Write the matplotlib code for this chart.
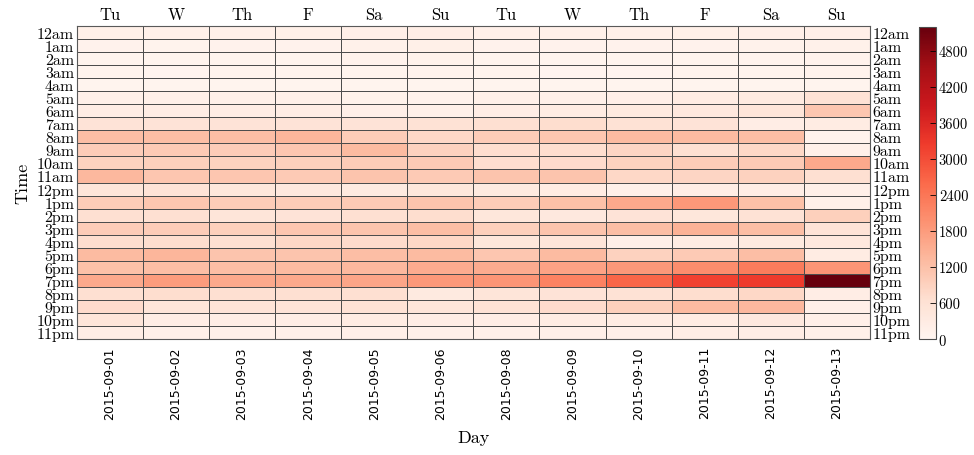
import numpy as np
import matplotlib
matplotlib.use("Agg")
import matplotlib.pyplot as plt

dates = ["2015-09-01", "2015-09-02", "2015-09-03", "2015-09-04", "2015-09-05", "2015-09-06",
         "2015-09-08", "2015-09-09", "2015-09-10", "2015-09-11", "2015-09-12", "2015-09-13"]
weekdays = ["Tu", "W", "Th", "F", "Sa", "Su", "Tu", "W", "Th", "F", "Sa", "Su"]
hours = ["12am", "1am", "2am", "3am", "4am", "5am", "6am", "7am", "8am", "9am", "10am", "11am",
         "12pm", "1pm", "2pm", "3pm", "4pm", "5pm", "6pm", "7pm", "8pm", "9pm", "10pm", "11pm"]

# rows = hours, columns = dates
h00 = [180, 150, 160, 170, 200, 230, 160, 150, 150, 170, 190, 200]
h01 = [100, 80, 90, 100, 130, 170, 90, 90, 90, 100, 120, 130]
h02 = [60, 50, 60, 60, 90, 120, 60, 50, 50, 60, 80, 90]
h03 = [50, 40, 50, 50, 60, 80, 50, 40, 40, 50, 60, 70]
h04 = [60, 60, 60, 60, 50, 60, 60, 60, 60, 60, 60, 50]
h05 = [150, 150, 150, 160, 120, 100, 160, 160, 200, 300, 350, 600]
h06 = [250, 260, 260, 260, 200, 150, 250, 300, 350, 400, 500, 1100]
h07 = [550, 550, 550, 550, 550, 600, 650, 700, 600, 550, 250, 300]
h08 = [1250, 1250, 1250, 1400, 1000, 800, 1000, 1100, 1300, 1300, 1250, 100]
h09 = [1000, 1050, 1000, 1100, 1300, 900, 700, 700, 850, 650, 800, 150]
h10 = [900, 950, 900, 950, 1000, 1050, 700, 750, 900, 1000, 1050, 1600]
h11 = [1350, 1100, 1100, 1050, 1150, 1050, 1150, 1150, 800, 850, 900, 650]
h12 = [500, 550, 450, 400, 350, 450, 350, 300, 150, 250, 250, 200]
h13 = [1000, 1100, 1000, 1000, 1050, 1150, 1000, 1200, 1600, 1850, 1200, 150]
h14 = [650, 650, 500, 550, 650, 700, 450, 400, 550, 450, 600, 950]
h15 = [1000, 1000, 950, 1100, 1150, 1250, 950, 1150, 1250, 1450, 1250, 550]
h16 = [700, 700, 650, 800, 750, 800, 450, 500, 200, 300, 350, 400]
h17 = [1300, 1400, 1150, 1150, 1250, 1300, 1100, 1300, 900, 1050, 1250, 300]
h18 = [1200, 1250, 1250, 1300, 1350, 1550, 1550, 1700, 1850, 2050, 2300, 1900]
h19 = [1600, 1800, 1600, 1600, 1650, 1850, 1900, 2200, 2650, 3150, 3250, 5200]
h20 = [650, 700, 650, 650, 650, 350, 500, 550, 600, 700, 800, 250]
h21 = [750, 500, 550, 550, 600, 500, 600, 750, 950, 1300, 1350, 200]
h22 = [500, 250, 250, 250, 300, 250, 250, 300, 300, 300, 400, 200]
h23 = [250, 150, 150, 150, 200, 150, 150, 200, 200, 250, 250, 150]

data = np.array([h00, h01, h02, h03, h04, h05, h06, h07, h08, h09, h10, h11,
                 h12, h13, h14, h15, h16, h17, h18, h19, h20, h21, h22, h23], dtype=float)

serif = "cmr10"

fig = plt.figure(figsize=(9.74, 4.56), dpi=100)
ax = fig.add_axes([0.079, 0.254, 0.814, 0.687])
mesh = ax.pcolormesh(np.arange(len(dates) + 1), np.arange(len(hours) + 1), data,
                     cmap="Reds", vmin=0, vmax=5200, edgecolors="0.3", linewidth=0.45)
ax.set_xlim(0, len(dates))
ax.set_ylim(len(hours), 0)
for s in ax.spines.values():
    s.set_edgecolor("0.35")
    s.set_linewidth(0.8)

ax.set_yticks(np.arange(len(hours)) + 0.5)
ax.set_yticklabels(hours, fontfamily=serif, fontsize=11.5)
ax.tick_params(axis="y", length=0, pad=2, labelleft=True, labelright=True)
for t in ax.yaxis.get_major_ticks():
    t.label2.set_fontfamily(serif)
    t.label2.set_fontsize(11.5)

ax.set_xticks(np.arange(len(dates)) + 0.5)
ax.set_xticklabels(dates, rotation=90, fontfamily="DejaVu Sans", fontsize=9)
ax.tick_params(axis="x", length=0, pad=5)

top = ax.secondary_xaxis("top")
top.set_xticks(np.arange(len(dates)) + 0.5)
top.set_xticklabels(weekdays, fontfamily=serif, fontsize=12)
top.tick_params(length=0, pad=3)
top.spines["top"].set_visible(False)

ax.set_xlabel("Day", fontfamily=serif, fontsize=13, labelpad=8)
ax.set_ylabel("Time", fontfamily=serif, fontsize=13, labelpad=4)

cax = fig.add_axes([0.944, 0.254, 0.017, 0.685])
cb = fig.colorbar(mesh, cax=cax, ticks=np.arange(0, 5000, 600))
cb.outline.set_edgecolor("0.3")
cb.outline.set_linewidth(0.8)
cax.tick_params(direction="in", length=4, width=0.6, pad=2, labelsize=10.5)
for lab in cax.get_yticklabels():
    lab.set_fontfamily(serif)

fig.savefig("out.png", dpi=100)
